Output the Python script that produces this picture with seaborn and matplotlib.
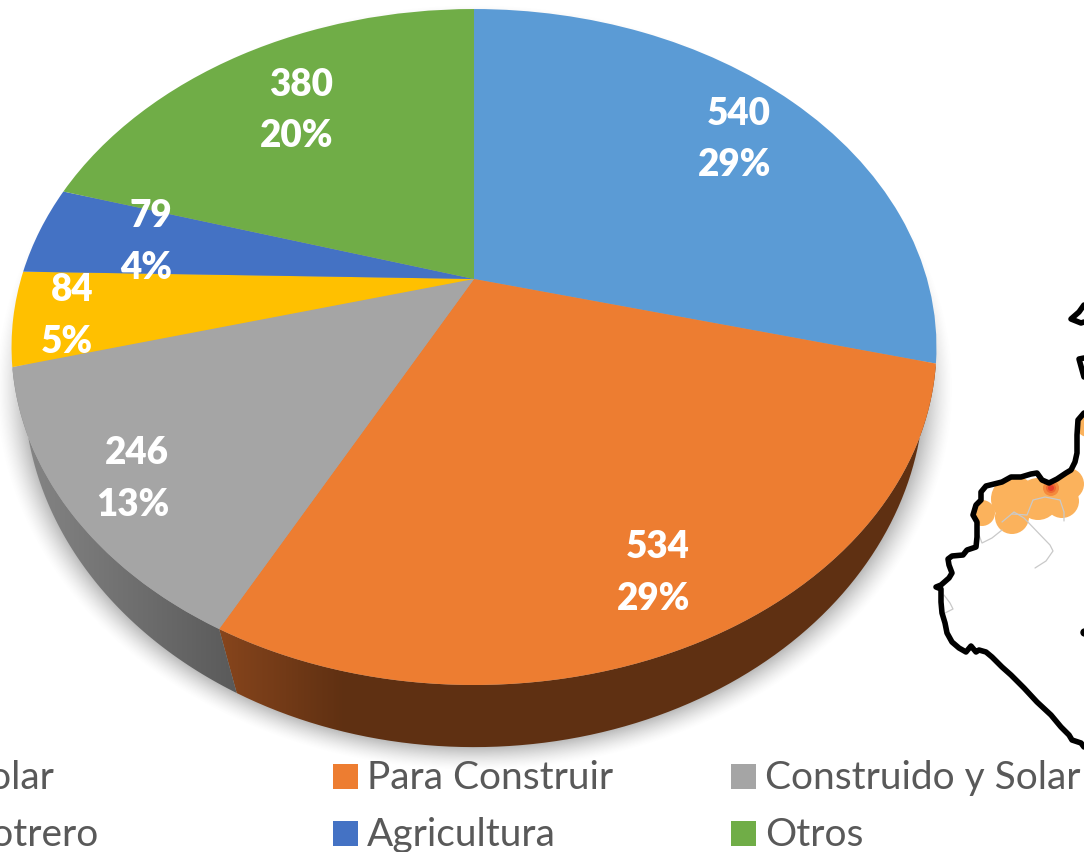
import numpy as np
import seaborn as sns
import matplotlib.pyplot as plt
from matplotlib.patches import Circle, Polygon, Rectangle
from matplotlib.transforms import Transform

categories = ['Solar', 'Para Construir', 'Construido y Solar', 'Potrero', 'Agricultura', 'Otros']
values = [540, 534, 246, 84, 79, 380]
colors = ['#5B9BD5', '#ED7D31', '#A5A5A5', '#FFC000', '#4472C4', '#70AD47']

# where the labels sit (right edge, y of number, y of percent), picture pixels
label_x = [771, 690, 169, 93, 172, 333]
label_y1 = [114, 547, 453, 290, 216, 85]
label_y2 = [165, 599, 505, 342, 268, 136]

# map outline
coast_x = [1084, 1081, 1072, 1069, 1061, 1051, 1037, 1024, 1011, 1002, 992, 986, 979, 976, 971, 966, 959, 952, 947,
           945, 942, 941, 941, 936, 941, 949, 952, 949, 948, 952, 963, 967, 976, 977, 977, 973, 976, 981, 981, 986,
           994, 1002, 1011, 1021, 1031, 1037, 1042, 1049, 1057, 1066, 1071, 1075, 1077, 1077, 1078, 1084]
coast_y = [747, 743, 740, 735, 727, 715, 702, 688, 675, 667, 657, 652, 650, 652, 646, 652, 648, 642, 633,
           623, 613, 602, 589, 587, 585, 578, 573, 565, 559, 556, 555, 550, 547, 537, 522, 515, 505, 500, 492, 486,
           484, 482, 477, 477, 474, 473, 480, 483, 479, 473, 470, 462, 453, 435, 420, 413]
islet1_x = [1084, 1079, 1071, 1081, 1084]
islet1_y = [305, 312, 319, 323, 322]
islet2_x = [1084, 1079, 1084]
islet2_y = [358, 359, 377]
blob_x = [1014, 1012, 982, 1038, 1062, 1068, 1088]
blob_y = [499, 517, 513, 499, 501, 484, 425]
blob_r = [23, 17, 13, 21, 17, 16, 12]
road1_x = [1002, 1014, 1024, 1050, 1053, 1046, 1035]
road1_y = [522, 512, 518, 545, 551, 561, 568]
road2_x = [1012, 1027, 1033, 1045, 1060, 1064, 1064]
road2_y = [514, 515, 500, 497, 500, 512, 521]
road3_x = [979, 982, 992, 1002]
road3_y = [535, 543, 538, 530]
road4_x = [944, 950, 953, 945]
road4_y = [595, 603, 609, 613]


class Perspective(Transform):
    input_dims = 2
    output_dims = 2

    def __init__(self, cx, cy, sx, sy, c):
        super().__init__()
        self.cx, self.cy, self.sx, self.sy, self.c = cx, cy, sx, sy, c

    def transform_non_affine(self, values):
        values = np.asarray(values, dtype=float)
        w = 1 + self.c * values[:, 1]
        return np.column_stack([self.cx + self.sx * values[:, 0] / w, self.cy - self.sy * values[:, 1] / w])


sns.set_theme(style='white')
plt.rcParams['font.family'] = ['Lato', 'DejaVu Sans']

fig = plt.figure(figsize=(10.84, 8.52), dpi=100)
ax = fig.add_axes([0, 0, 1, 1])

top = Perspective(474, 279, 453, 324.3, 0.2012)
bottom = Perspective(474, 333, 445, 352, 0.15)

wedges, _ = ax.pie(values, colors=sns.color_palette(colors), startangle=90, counterclock=False,
                   wedgeprops={'linewidth': 0})
for w in wedges:
    w.set_transform(top + ax.transData)
    w.set_zorder(5)

# soft shadow under the disc
xx, yy = np.meshgrid(np.arange(1084), np.arange(852))
r = np.sqrt(((xx - 474) / 450) ** 2 + ((yy - 387) / 360) ** 2)
shade = np.zeros((852, 1084, 4))
shade[..., :3] = 0.35
shade[..., 3] = 0.55 * np.clip(1 - (r - 0.985) / 0.08, 0, 1) ** 1.5
ax.imshow(shade, extent=[0, 1084, 852, 0], zorder=1, aspect='auto')

# side wall, dark with a lighter left end
px = np.arange(1084)
wall_ramps = {
    1: [np.interp(px, [225, 345], [133, 95]), np.interp(px, [225, 345], [68, 48]), np.interp(px, [225, 345], [28, 18])],
    2: [np.interp(px, [30, 235], [132, 90])] * 3,
}
for i, ramp in wall_ramps.items():
    t = np.radians(np.linspace(wedges[i].theta1, wedges[i].theta2, 80))
    unit = np.column_stack([np.cos(t), np.sin(t)])
    outline = np.vstack([top.transform(unit), bottom.transform(unit)[::-1]])
    clip = Polygon(outline, closed=True, transform=ax.transData, facecolor='none', edgecolor='none')
    ax.add_patch(clip)
    img = ax.imshow(np.dstack(ramp) / 255, extent=[0, 1084, 852, 0], zorder=2, aspect='auto')
    img.set_clip_path(clip)

total = sum(values)
for v, x, y1, y2 in zip(values, label_x, label_y1, label_y2):
    ax.text(x, y1, str(v), color='white', fontsize=26.5, fontweight='heavy', ha='right', va='center', zorder=6)
    ax.text(x, y2, f'{round(100 * v / total)}%', color='white', fontsize=26.5, fontweight='heavy', ha='right',
            va='center', zorder=6)

# legend, two rows of three equally spaced entries, first column runs off the left edge
for i, name in enumerate(categories):
    col = i % 3
    row = i // 3
    x = -65 + col * 398
    y = 764 + row * 57
    ax.add_patch(Rectangle((x, y), 25, 25, facecolor=colors[i], edgecolor='none', zorder=6))
    ax.text(x + 34, y + 14, name, color='#595959', fontsize=28, ha='left', va='center', zorder=6)

# map
land_x = coast_x + [1100, 1100]
land_y = coast_y + [413, 747]
land = Polygon(np.column_stack([land_x, land_y]), closed=True, facecolor='none', edgecolor='none')
ax.add_patch(land)
for bx, by, br in zip(blob_x, blob_y, blob_r):
    c = Circle((bx, by), br, facecolor='#FBB25C', edgecolor='none', zorder=3)
    ax.add_patch(c)
    c.set_clip_path(land)
for radius, col in zip([8, 5, 3], ['#F58A3C', '#EE6A30', '#E8402A']):
    ax.add_patch(Circle((1051, 488), radius, facecolor=col, edgecolor='none', zorder=3))
for rx, ry in zip([road1_x, road2_x, road3_x, road4_x], [road1_y, road2_y, road3_y, road4_y]):
    ax.plot(rx, ry, color='#C9C9C9', lw=0.9, zorder=3)
for mx, my in zip([coast_x, islet1_x, islet2_x], [coast_y, islet1_y, islet2_y]):
    ax.plot(mx, my, color='black', lw=4, solid_joinstyle='round', solid_capstyle='round', zorder=4)
ax.plot([1084], [632], 'o', color='black', ms=5, zorder=4)

ax.set_aspect('auto')
ax.set_xlim(0, 1084)
ax.set_ylim(852, 0)
ax.axis('off')

fig.savefig('out.png', dpi=100)
